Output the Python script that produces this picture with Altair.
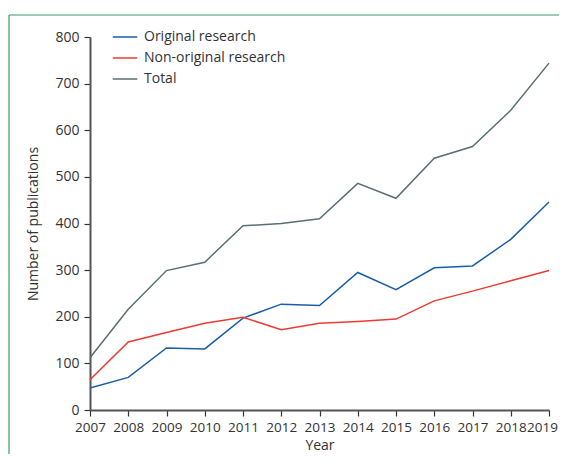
import altair as alt
import pandas as pd

years = list(range(2007, 2020))
original = [47, 70, 133, 131, 197, 227, 224, 295, 258, 305, 309, 366, 446]
non_original = [65, 146, 166, 186, 199, 172, 186, 190, 195, 234, 255, 277, 299]
total = [112, 216, 299, 317, 395, 400, 410, 486, 454, 540, 565, 643, 744]

series_names = ["Original research", "Non-original research", "Total"]
series_colors = ["#1a5ea8", "#ee3a32", "#5a6e76"]

rows = []
for name, vals in zip(series_names, [original, non_original, total]):
    for y, v in zip(years, vals):
        rows.append({"Year": y, "Value": v, "Series": name})
df = pd.DataFrame(rows)

FONT = "Open Sans"

lines = alt.Chart(df).mark_line(strokeWidth=1.5, clip=False).encode(
    x=alt.X("Year:Q", scale=alt.Scale(domain=[2007, 2019], nice=False, zero=False),
            axis=alt.Axis(values=years, format="d", title="Year", labelOverlap=False,
                          labelFlush=False, titlePadding=5, labelFontSize=13.5,
                          labelOffset={"condition": {"test": "datum.value == 2019", "value": -7},
                                       "value": 0})),
    y=alt.Y("Value:Q", scale=alt.Scale(domain=[0, 800], nice=False),
            axis=alt.Axis(values=[0, 100, 200, 300, 400, 500, 600, 700, 800],
                          title="Number of publications", titlePadding=14)),
    color=alt.Color("Series:N", sort=series_names,
                    scale=alt.Scale(domain=series_names, range=series_colors),
                    legend=alt.Legend(title=None, orient="none", legendX=22, legendY=-13,
                                      symbolType="stroke", symbolSize=600, symbolStrokeWidth=1.5,
                                      rowPadding=1, labelFontSize=14, labelFont=FONT,
                                      labelColor="#333333", labelOffset=6)),
    order=alt.Order("Year:Q"),
)

frame_v = alt.Chart(pd.DataFrame({"a": [0]})).mark_rule(color="#3d9a6e", strokeWidth=1.2, clip=False).encode(
    x=alt.value(-81), y=alt.value(-22), y2=alt.value(440)
)
frame_h = alt.Chart(pd.DataFrame({"a": [0]})).mark_rule(color="#3d9a6e", strokeWidth=1.2, clip=False).encode(
    x=alt.value(-81), x2=alt.value(500), y=alt.value(-22)
)

chart = alt.layer(frame_v, frame_h, lines).properties(
    width=459, height=373,
    autosize=alt.AutoSizeParams(type="none"),
    padding={"left": 82, "top": 29, "right": 10, "bottom": 44},
).configure_view(stroke=None).configure_axis(
    grid=False,
    domainColor="#555555", domainWidth=2,
    tickColor="#333333", tickSize=6, tickWidth=1.2,
    labelFont=FONT, labelFontSize=14, labelColor="#333333",
    titleFont=FONT, titleFontSize=14, titleColor="#333333", titleFontWeight="normal",
).configure_axisX(labelPadding=4).configure_axisY(labelPadding=5)

chart.save("out.html", embed_options={"renderer": "svg", "actions": False})
